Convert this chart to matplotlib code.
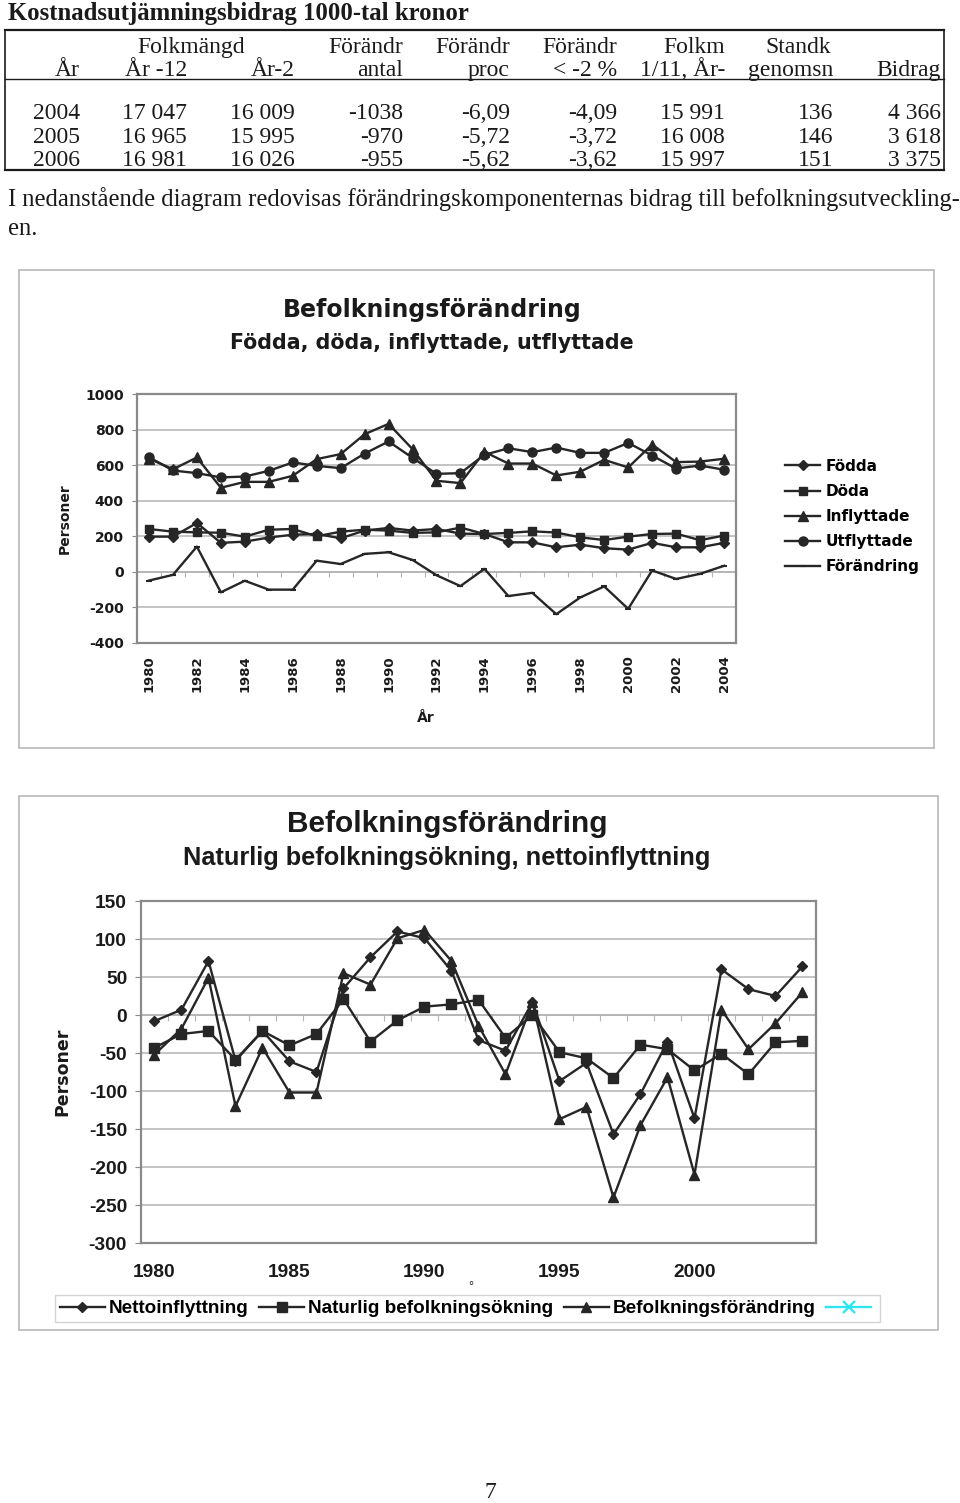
import numpy as np
import matplotlib
matplotlib.use("Agg")
import matplotlib.pyplot as plt
from matplotlib.patches import Rectangle
from matplotlib.lines import Line2D

# ---------------- data ----------------
table_title = "Kostnadsutjämningsbidrag 1000-tal kronor"
tab_years = ["2004", "2005", "2006"]
tab_folk12 = ["17 047", "16 965", "16 981"]
tab_folk2 = ["16 009", "15 995", "16 026"]
tab_antal = ["-1038", "-970", "-955"]
tab_proc = ["-6,09", "-5,72", "-5,62"]
tab_lt2 = ["-4,09", "-3,72", "-3,62"]
tab_folkm = ["15 991", "16 008", "15 997"]
tab_standk = ["136", "146", "151"]
tab_bidrag = ["4 366", "3 618", "3 375"]
paragraph = ["I nedanstående diagram redovisas förändringskomponenternas bidrag till befolkningsutveckling-",
             "en."]

years = list(range(1980, 2005))
fodda = [198, 198, 275, 163, 170, 193, 209, 213, 189, 232, 247, 232, 241,
         215, 213, 166, 166, 138, 153, 133, 125, 163, 138, 138, 163]
doda = [241, 226, 222, 220, 198, 237, 241, 200, 226, 237, 232, 219, 222,
        249, 213, 219, 228, 221, 194, 179, 198, 213, 215, 178, 204]
inflyttade = [637, 577, 643, 473, 506, 506, 540, 634, 662, 774, 832, 690, 512,
              499, 675, 609, 609, 542, 563, 630, 587, 716, 617, 620, 636]
utflyttade = [645, 570, 555, 531, 536, 568, 615, 596, 583, 665, 733, 641, 551,
              555, 658, 695, 673, 699, 669, 669, 725, 654, 581, 598, 574]
forandring = [-49, -17, 142, -115, -50, -100, -100, 63, 44, 101, 110, 67, -19,
              -80, 17, -136, -118, -238, -144, -82, -208, 8, -40, -11, 34]

netto = [-8, 7, 71, -60, -21, -61, -75, 35, 76, 110, 101, 58, -33,
         -47, 17, -87, -63, -157, -104, -35, -136, 60, 34, 25, 64]
naturlig = [-43, -25, -21, -59, -21, -40, -25, 21, -35, -7, 11, 14, 20,
            -30, 0, -49, -57, -83, -39, -45, -73, -51, -78, -36, -34]
befolk = [-52, -18, 49, -120, -43, -102, -102, 55, 40, 101, 112, 71, -14,
          -78, 17, -137, -121, -240, -145, -82, -210, 7, -45, -11, 30]

chart1_xticks = list(range(1980, 2005, 2))
chart1_yticks = list(range(-400, 1001, 200))
chart2_xticks = list(range(1980, 2001, 5))
chart2_yticks = list(range(-300, 151, 50))

# ---------------- figure ----------------
W, H = 960, 1503
fig = plt.figure(figsize=(W / 100, H / 100), dpi=100)
fig.patch.set_facecolor("white")


def fx(x):
    return x / W


def fy(y):
    return 1 - y / H


SERIF = "Liberation Serif"
INK = "#1a1a1a"
LINE = "#262626"
GRID = "#b4b4b4"
FRAME = "#8a8a8a"

# ---- table ----
fig.text(fx(8), fy(20), table_title, family=SERIF, weight="bold", size=17.8,
         color=INK, va="baseline", ha="left")

for (x0, y0, x1, y1, lw) in [(5, 30, 944, 30, 1.6), (5, 79, 944, 79, 1.0),
                             (5, 170, 944, 170, 1.6), (5, 30, 5, 170, 1.2),
                             (944, 30, 944, 170, 1.2)]:
    fig.add_artist(Line2D([fx(x0), fx(x1)], [fy(y0), fy(y1)], color=INK, lw=lw,
                          transform=fig.transFigure))

right_edges = [80, 187, 295, 403, 510, 617, 725, 833, 941]
tfont = dict(family=SERIF, size=17, color=INK, va="baseline")
# header row 1
fig.text(fx(191), fy(53), "Folkmängd", ha="center", **tfont)
for xr, s in [(403, "Förändr"), (510, "Förändr"), (617, "Förändr"), (725, "Folkm")]:
    fig.text(fx(xr), fy(53), s, ha="right", **tfont)
fig.text(fx(798), fy(53), "Standk", ha="center", **tfont)
# header row 2
hdr2 = ["År", "År -12", "År-2", "antal", "proc", "< -2 %", "1/11, År-", "genomsn", "Bidrag"]
for xr, s in zip(right_edges, hdr2):
    fig.text(fx(xr), fy(76), s, ha="right", **tfont)
# data rows
cols = [tab_years, tab_folk12, tab_folk2, tab_antal, tab_proc, tab_lt2,
        tab_folkm, tab_standk, tab_bidrag]
for r, yb in enumerate([119, 143, 166]):
    for xr, col in zip(right_edges, cols):
        fig.text(fx(xr), fy(yb), col[r], ha="right", **tfont)

fig.text(fx(8), fy(206), paragraph[0], family=SERIF, size=17.7, color=INK, va="baseline")
fig.text(fx(8), fy(235), paragraph[1], family=SERIF, size=17.7, color=INK, va="baseline")

# ---- chart 1 ----
fig.add_artist(Rectangle((fx(19), fy(748)), (934 - 19) / W, (748 - 270) / H,
                         fill=False, edgecolor="#b8b8b8", lw=1.2,
                         transform=fig.transFigure))
C1 = "DejaVu Sans"
fig.text(fx(432), fy(310), "Befolkningsförändring", family=C1, weight="bold",
         size=17, ha="center", va="center", color=INK)
fig.text(fx(432), fy(343), "Födda, döda, inflyttade, utflyttade", family=C1,
         weight="bold", size=14.9, ha="center", va="center", color=INK)

ax1 = fig.add_axes([fx(137), fy(643), (736 - 137) / W, (643 - 394) / H])
ax1.set_xlim(years[0] - 0.5, years[-1] + 0.5)
ax1.set_ylim(chart1_yticks[0], chart1_yticks[-1])
ax1.set_yticks(chart1_yticks)
ax1.set_yticklabels([str(v) for v in chart1_yticks])
ax1.set_xticks(chart1_xticks)
ax1.set_xticklabels([str(v) for v in chart1_xticks], rotation=90)
ax1.yaxis.grid(True, color=GRID, lw=1.1)
ax1.set_axisbelow(True)
for sp in ax1.spines.values():
    sp.set_color(FRAME)
    sp.set_linewidth(1.6)
ax1.tick_params(axis="y", direction="out", length=3.5, color=FRAME, pad=6,
                labelsize=10)
ax1.tick_params(axis="x", length=0, pad=9, labelsize=9.5)
for lab in ax1.get_xticklabels() + ax1.get_yticklabels():
    lab.set_family(C1)
    lab.set_fontweight("bold")
    lab.set_color(INK)

kw = dict(color=LINE, lw=1.7, mfc=LINE, mec=LINE)
ax1.plot(years, fodda, marker="D", ms=5, label="Födda", **kw)
ax1.plot(years, doda, marker="s", ms=6, label="Döda", **kw)
ax1.plot(years, inflyttade, marker="^", ms=6.5, label="Inflyttade", **kw)
ax1.plot(years, utflyttade, marker="o", ms=6.5, label="Utflyttade", **kw)
ax1.plot(years, forandring, marker="_", ms=4, mew=1.5, label="Förändring", **kw)

sec1 = ax1.secondary_xaxis(0, transform=ax1.transData)
sec1.set_xticks([y - 0.5 for y in years] + [years[-1] + 0.5])
sec1.tick_params(direction="out", length=3.5, color=GRID, labelbottom=False)
sec1.spines["bottom"].set_color(GRID)
sec1.spines["bottom"].set_linewidth(1.1)

ax1.legend(loc="center left", bbox_to_anchor=(fx(785), fy(516.5)),
           bbox_transform=fig.transFigure, frameon=False, borderpad=0,
           borderaxespad=0, handlelength=2.3, handletextpad=0.35,
           labelspacing=0.66, prop=dict(family=C1, weight="bold", size=11))

fig.text(fx(65), fy(519), "Personer", family=C1, weight="bold", size=10,
         rotation=90, ha="center", va="center", color=INK)
fig.text(fx(426), fy(718), "År", family=C1, weight="bold", size=10,
         ha="center", va="center", color=INK)

# ---- chart 2 ----
fig.add_artist(Rectangle((fx(19), fy(1330)), (938 - 19) / W, (1330 - 796) / H,
                         fill=False, edgecolor="#b8b8b8", lw=1.2,
                         transform=fig.transFigure))
C2 = "Liberation Sans"
fig.text(fx(447), fy(824), "Befolkningsförändring", family=C2, weight="bold",
         size=21.5, ha="center", va="center", color=INK)
fig.text(fx(447), fy(858), "Naturlig befolkningsökning, nettoinflyttning",
         family=C2, weight="bold", size=18.3, ha="center", va="center", color=INK)

ax2 = fig.add_axes([fx(141), fy(1243), (816 - 141) / W, (1243 - 901) / H])
ax2.set_xlim(years[0] - 0.5, years[-1] + 0.5)
ax2.set_ylim(chart2_yticks[0], chart2_yticks[-1])
ax2.set_yticks(chart2_yticks)
ax2.set_yticklabels([str(v) for v in chart2_yticks])
ax2.set_xticks(chart2_xticks)
ax2.set_xticklabels([str(v) for v in chart2_xticks])
ax2.yaxis.grid(True, color=GRID, lw=1.1)
ax2.set_axisbelow(True)
for sp in ax2.spines.values():
    sp.set_color(FRAME)
    sp.set_linewidth(1.6)
ax2.tick_params(axis="y", direction="out", length=4, color=FRAME, pad=6,
                labelsize=13.8)
ax2.tick_params(axis="x", length=0, pad=15, labelsize=13.8)
for lab in ax2.get_xticklabels() + ax2.get_yticklabels():
    lab.set_family(C2)
    lab.set_fontweight("bold")
    lab.set_color(INK)

ax2.plot(years, netto, marker="D", ms=5, label="Nettoinflyttning", **kw)
ax2.plot(years, naturlig, marker="s", ms=6.5, label="Naturlig befolkningsökning", **kw)
ax2.plot(years, befolk, marker="^", ms=7, label="Befolkningsförändring", **kw)

sec2 = ax2.secondary_xaxis(0, transform=ax2.transData)
sec2.set_xticks([y - 0.5 for y in years] + [years[-1] + 0.5])
sec2.tick_params(direction="out", length=4, color=GRID, labelbottom=False)
sec2.spines["bottom"].set_color(GRID)
sec2.spines["bottom"].set_linewidth(1.1)

handles, labels = ax2.get_legend_handles_labels()
handles.append(Line2D([], [], color="#2ee6f2", lw=1.7, marker="x", ms=9, mew=1.7))
labels.append("")
leg2 = ax2.legend(handles, labels, loc="center",
                  bbox_to_anchor=(fx(467.5), fy(1308.5)),
                  bbox_transform=fig.transFigure, ncol=4, frameon=True,
                  fancybox=False, edgecolor="#c8c8c8", borderpad=0.25,
                  borderaxespad=0, handlelength=2.4, handletextpad=0.2,
                  columnspacing=0.55,
                  prop=dict(family=C2, weight="bold", size=13.6))
leg2.get_frame().set_linewidth(1.0)

fig.text(fx(62), fy(1072), "Personer", family="DejaVu Sans", weight="bold",
         size=12.5, rotation=90, ha="center", va="center", color=INK)
fig.text(fx(471), fy(1287), "°", family=C2, size=9, ha="center", va="center",
         color=INK)

fig.text(fx(490), fy(1493), "7", family=SERIF, size=17, ha="center",
         va="center", color=INK)

fig.savefig("out.png", dpi=100, facecolor="white")
